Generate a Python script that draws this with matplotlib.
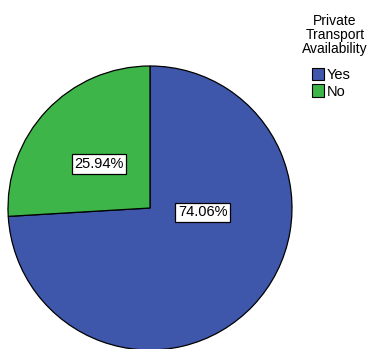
import matplotlib
matplotlib.use("Agg")
import matplotlib.pyplot as plt
from matplotlib.patches import Patch

categories = ["Yes", "No"]
percentages = [74.06, 25.94]
colors = ["#3e57ab", "#3db549"]
legend_title = "Private\nTransport\nAvailability"

plt.rcParams["font.family"] = ["Liberation Sans", "DejaVu Sans"]

fig = plt.figure(figsize=(3.69, 3.49), dpi=100)
ax = fig.add_axes([8 / 369, -1 / 349, 284 / 369, 284 / 349])

wedges, _ = ax.pie(percentages, colors=colors, startangle=90, counterclock=False,
                   wedgeprops=dict(edgecolor="black", linewidth=0.9))
ax.set_xlim(-1, 1)
ax.set_ylim(-1, 1)
ax.set_aspect("equal")

# value labels, placed inside each slice
label_pos = [(0.37, -0.03), (-0.36, 0.31)]
for val, (x, y) in zip(percentages, label_pos):
    ax.text(x, y, f"{val:.2f}%", ha="center", va="center", fontsize=10.5,
            bbox=dict(boxstyle="square,pad=0.18", facecolor="white",
                      edgecolor="black", linewidth=0.9))

# legend title, centred above the entries
fig.text(335 / 369, 1 - 14 / 349, legend_title, ha="center", va="top",
         fontsize=10, linespacing=0.98)

handles = [Patch(facecolor=c, edgecolor="black", linewidth=0.8) for c in colors]
fig.legend(handles, categories, loc="upper left",
           bbox_to_anchor=(309 / 369, 1 - 65 / 349), frameon=False,
           fontsize=10.5, handlelength=0.85, handleheight=0.95,
           handletextpad=0.15, labelspacing=0.15, borderpad=0.2, borderaxespad=0)

fig.savefig("out.png", dpi=100)
